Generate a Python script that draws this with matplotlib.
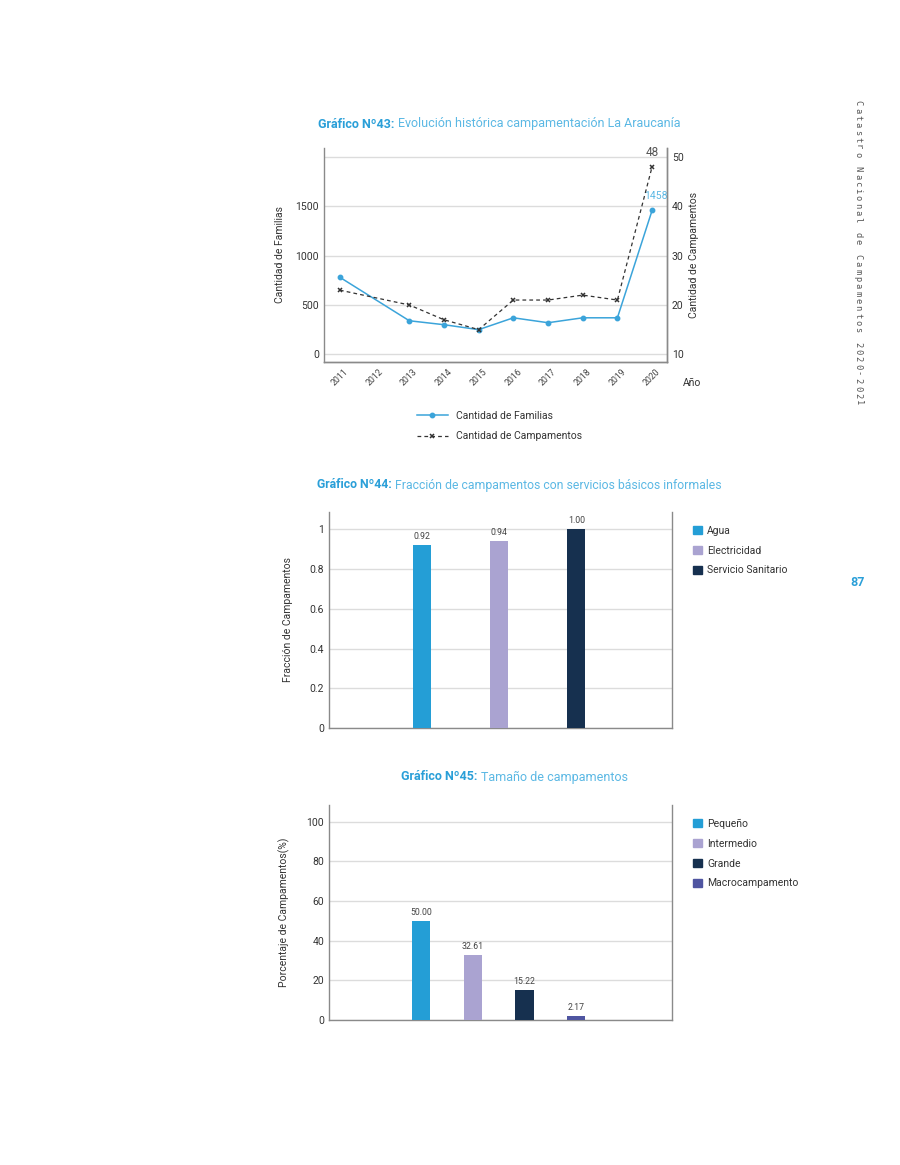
import matplotlib.pyplot as plt
from matplotlib.lines import Line2D
from matplotlib.patches import Patch

# ---- data ----
years = [2011, 2012, 2013, 2014, 2015, 2016, 2017, 2018, 2019, 2020]
familias = [780, None, 340, 300, 250, 370, 320, 370, 370, 1458]
campamentos = [23, None, 20, 17, 15, 21, 21, 22, 21, 48]

servicios = ['Agua', 'Electricidad', 'Servicio Sanitario']
fraccion = [0.92, 0.94, 1.00]

tamanos = ['Pequeño', 'Intermedio', 'Grande', 'Macrocampamento']
porcentaje = [50.00, 32.61, 15.22, 2.17]

# ---- style ----
plt.rcParams['font.family'] = ['Roboto', 'DejaVu Sans']
plt.rcParams['font.size'] = 7.5
W, H = 900, 1165
BLUE = '#2a9fd8'
LBLUE = '#5bb8e4'
GRID = '#dcdcdc'
SPINE = '#8a8a8a'
TXT = '#333333'
bar_cols = ['#249ed6', '#aaa3d1', '#16304f', '#4f55a1']

fig = plt.figure(figsize=(W / 100, H / 100), dpi=100)


def px_axes(left, top, right, bottom):
    return fig.add_axes([left / W, 1 - bottom / H, (right - left) / W, (bottom - top) / H])


def style_axes(ax):
    ax.spines['top'].set_visible(False)
    for s in ['left', 'right', 'bottom']:
        ax.spines[s].set_color(SPINE)
        ax.spines[s].set_linewidth(1)
    ax.tick_params(length=0, colors=TXT, labelsize=7.5)


def title(x, y, bold, rest, size=9.0):
    t = fig.text(x / W, 1 - y / H, bold, color=BLUE, fontsize=size, fontweight='bold',
                 ha='left', va='center')
    fig.canvas.draw()
    bb = t.get_window_extent()
    fig.text(bb.x1 / W + 0.004, 1 - y / H, rest, color=LBLUE, fontsize=size,
             ha='left', va='center')


# ---- Gráfico 43 ----
ax1 = px_axes(324, 148, 667, 362)
style_axes(ax1)
ax2 = ax1.twinx()
style_axes(ax2)
ax2.spines['left'].set_visible(False)

fy = [(y, v) for y, v in zip(years, familias) if v is not None]
cy = [(y, v) for y, v in zip(years, campamentos) if v is not None]
ax1.plot([p[0] for p in fy], [p[1] for p in fy], color='#3ba4da', lw=1.1,
         marker='o', ms=3.2, zorder=3)
ax2.plot([p[0] for p in cy], [p[1] for p in cy], color='#333333', lw=0.9,
         ls=(0, (3, 2.5)), marker='x', ms=3.5, mew=1.1, zorder=4)

ax1.set_ylim(-78, 2091)
ax2.set_ylim(10 - 78 / 50, 10 + 2091 / 50)
ax1.set_xlim(2011 - 0.46, 2020 + 0.43)
ax1.set_yticks([0, 500, 1000, 1500])
ax2.set_yticks([10, 20, 30, 40, 50])
for g in [0, 500, 1000, 1500, 2000]:
    ax1.axhline(g, color=GRID, lw=1, zorder=0)
ax1.set_xticks(years)
ax1.set_xticklabels([str(y) for y in years], rotation=45, fontsize=6.3, color='#444444')
ax1.tick_params(axis='x', pad=4)
ax1.set_ylabel('Cantidad de Familias', color=TXT, fontsize=7.5, labelpad=8)
ax2.set_ylabel('Cantidad de Campamentos', color=TXT, fontsize=7.5, labelpad=4)
ax1.annotate(str(familias[-1]), (years[-1], familias[-1]), xytext=(3, 8),
             textcoords='offset points', ha='center', color=LBLUE, fontsize=7.5)
ax2.annotate(str(campamentos[-1]), (years[-1], campamentos[-1]), xytext=(0, 8),
             textcoords='offset points', ha='center', color='#555555', fontsize=8.5)
fig.text(692 / W, 1 - 383 / H, 'Año', color=TXT, fontsize=7.5, ha='center', va='center')

h1 = [Line2D([], [], color='#3ba4da', lw=1.1, marker='o', ms=3.2),
      Line2D([], [], color='#333333', lw=0.9, ls=(0, (3, 2.5)), marker='x', ms=3.5, mew=1.1)]
fig.legend(h1, ['Cantidad de Familias', 'Cantidad de Campamentos'], loc='center left',
           bbox_to_anchor=(408 / W, 1 - 426 / H), frameon=False, fontsize=7.5,
           handlelength=2.9, labelspacing=1.05, labelcolor=TXT)
title(318, 124, 'Gráfico Nº43:', 'Evolución histórica campamentación La Araucanía')

# ---- Gráfico 44 ----
ax3 = px_axes(329, 512, 672, 728)
style_axes(ax3)
x3 = list(range(len(servicios)))
ax3.bar(x3, fraccion, width=0.234, color=bar_cols[:3], zorder=3)
for x, v in zip(x3, fraccion):
    ax3.text(x, v + 0.02, f'{v:.2f}', ha='center', va='bottom', fontsize=6.3, color='#444444')
ax3.set_xlim(-1.21, 3.24)
ax3.set_ylim(0, 1.087)
ax3.set_yticks([0, 0.2, 0.4, 0.6, 0.8, 1])
ax3.set_yticklabels(['0', '0.2', '0.4', '0.6', '0.8', '1'])
ax3.set_xticks([])
ax3.yaxis.grid(True, color=GRID, lw=1, zorder=0)
ax3.set_axisbelow(True)
ax3.set_ylabel('Fracción de Campamentos', color=TXT, fontsize=7.5, labelpad=12)
h3 = [Patch(color=c) for c in bar_cols[:3]]
ax3.legend(h3, servicios, loc='upper left', bbox_to_anchor=(1.035, 0.98), frameon=False,
           fontsize=7.5, handlelength=0.8, handleheight=0.8, labelspacing=0.95,
           handletextpad=0.5, labelcolor=TXT)
title(317, 485, 'Gráfico Nº44:', 'Fracción de campamentos con servicios básicos informales',
      size=8.8)

# ---- Gráfico 45 ----
ax4 = px_axes(329, 805, 672, 1020)
style_axes(ax4)
x4 = list(range(len(tamanos)))
ax4.bar(x4, porcentaje, width=0.35, color=bar_cols, zorder=3)
for x, v in zip(x4, porcentaje):
    ax4.text(x, v + 2, f'{v:.2f}', ha='center', va='bottom', fontsize=6.3, color='#444444')
ax4.set_xlim(-1.79, 4.86)
ax4.set_ylim(0, 108.4)
ax4.set_yticks([0, 20, 40, 60, 80, 100])
ax4.set_xticks([])
ax4.yaxis.grid(True, color=GRID, lw=1, zorder=0)
ax4.set_axisbelow(True)
ax4.set_ylabel('Porcentaje de Campamentos(%)', color=TXT, fontsize=7.5, labelpad=12)
h4 = [Patch(color=c) for c in bar_cols]
ax4.legend(h4, tamanos, loc='upper left', bbox_to_anchor=(1.035, 0.98), frameon=False,
           fontsize=7.5, handlelength=0.8, handleheight=0.8, labelspacing=0.95,
           handletextpad=0.5, labelcolor=TXT)
title(401, 777, 'Gráfico Nº45:', 'Tamaño de campamentos', size=9.0)

# ---- page side text (letter-spaced, reading downwards) ----
side = 'Catastro Nacional de Campamentos 2020-2021'
step = 300 / (len(side) - 1)
for i, ch in enumerate(side):
    fig.text(858 / W, 1 - (103 + i * step) / H, ch, rotation=-90, ha='center', va='center',
             fontsize=6.3, color='#555555', family='DejaVu Sans Mono')
fig.text(858 / W, 1 - 582 / H, '87', ha='center', va='center', fontsize=9,
         color=BLUE, fontweight='bold')

fig.savefig('out.png', dpi=100)
